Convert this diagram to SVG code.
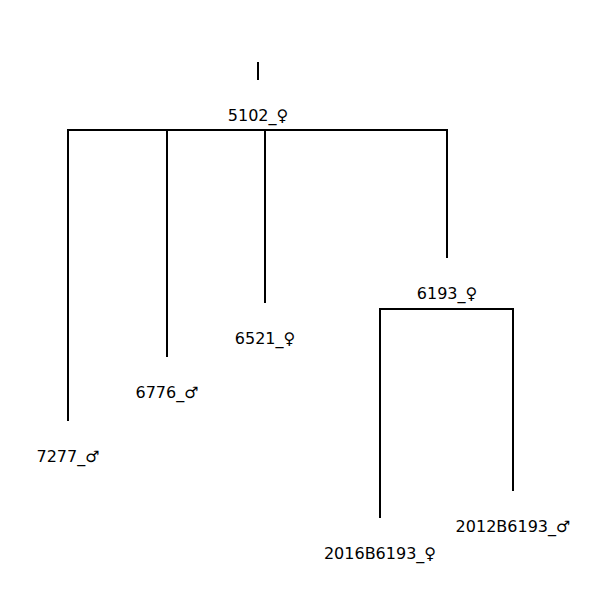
<svg xmlns="http://www.w3.org/2000/svg" width="600" height="600" viewBox="0 0 600 600">
<style>
.l{stroke:#000;stroke-width:2;fill:none;stroke-linecap:butt}
text{font-family:"DejaVu Sans",sans-serif;font-size:16px;text-anchor:middle;fill:#000}
</style>
<rect width="600" height="600" fill="#fff"/>
<g id="connectors">
<path class="l" d="M258,62V80"/>
<path class="l" d="M68,421V130H447V258M167,130V357M265,130V303"/>
<path class="l" d="M380,518V309H513V491"/>
</g>
<g id="n5102"><text x="258" y="121">5102_♀</text></g>
<g id="n7277"><text x="68" y="462">7277_♂</text></g>
<g id="n6776"><text x="167" y="398">6776_♂</text></g>
<g id="n6521"><text x="265" y="344">6521_♀</text></g>
<g id="n6193"><text x="447" y="299">6193_♀</text></g>
<g id="n2016B6193"><text x="380" y="559">2016B6193_♀</text></g>
<g id="n2012B6193"><text x="513" y="532">2012B6193_♂</text></g>
</svg>
